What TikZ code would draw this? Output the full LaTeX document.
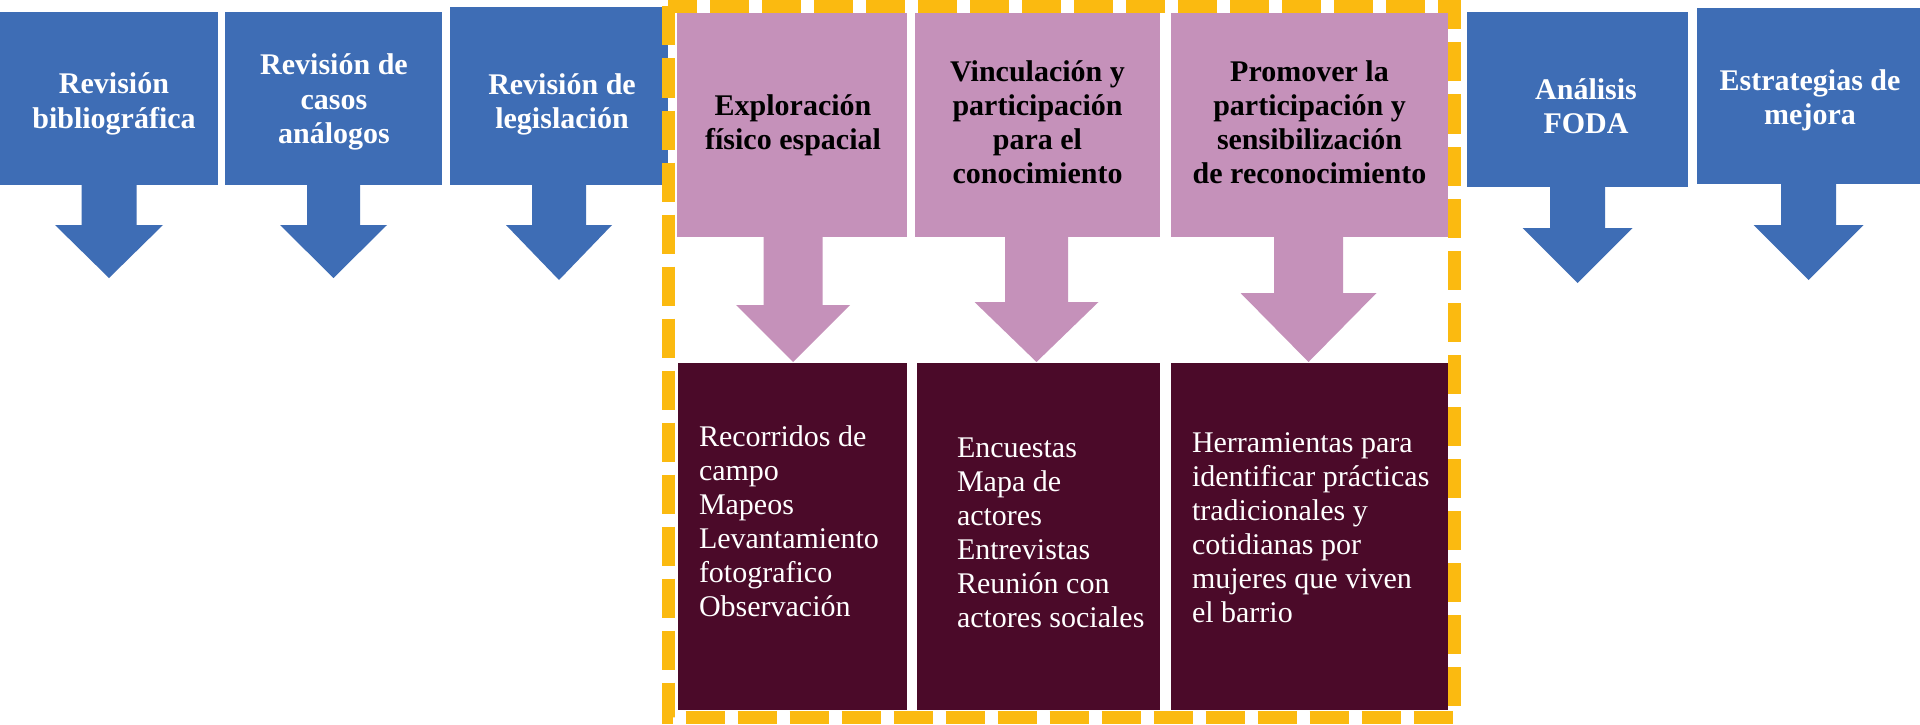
\documentclass[tikz,border=0pt]{standalone}
\usepackage{fontspec}
\setmainfont{Liberation Serif}
\usetikzlibrary{calc}
\definecolor{bblue}{HTML}{3E6DB5}
\definecolor{ppink}{HTML}{C591BA}
\definecolor{dmaroon}{HTML}{4B0A29}
\definecolor{ygold}{HTML}{FBBA10}
\tikzset{
  box/.style={rectangle, inner sep=0pt, outer sep=0pt},
  bluebox/.style={box, fill=bblue},
  pinkbox/.style={box, fill=ppink},
  darkbox/.style={box, fill=dmaroon},
  bluetext/.style={inner sep=0pt, outer sep=0pt, align=center, text=white, font=\fontsize{30}{34.5}\selectfont\bfseries},
  pinktext/.style={inner sep=0pt, outer sep=0pt, align=center, text=black, font=\fontsize{30}{34}\selectfont\bfseries},
  darktext/.style={inner sep=0pt, outer sep=0pt, align=left, text=white, anchor=west, font=\fontsize{30}{34}\selectfont},
  border/.style={draw=ygold, line width=13pt, dash pattern=on 39pt off 13pt},
}
% #1 colour, #2 node, #3 x offset, #4 stem half width, #5 head half width, #6 head top offset, #7 tip offset
\newcommand{\blkarrow}[7]{%
  \fill[#1] ($(#2.south)+(#3-#4,-1)$) -- ($(#2.south)+(#3-#4,#6)$) -- ($(#2.south)+(#3-#5,#6)$)
    -- ($(#2.south)+(#3,#7)$) -- ($(#2.south)+(#3+#5,#6)$) -- ($(#2.south)+(#3+#4,#6)$)
    -- ($(#2.south)+(#3+#4,-1)$) -- cycle;}
\begin{document}
\begin{tikzpicture}[x=1pt, y=-1pt]
\fill[white] (0,0) rectangle (1920,725);
\useasboundingbox (0,0) rectangle (1920,725);

% blue boxes
\node[bluebox, minimum width=218pt, minimum height=173pt] (b1) at (109,98.5) {};
\node[bluebox, minimum width=217pt, minimum height=173pt] (b2) at (333.5,98.5) {};
\node[bluebox, minimum width=218pt, minimum height=178pt] (b3) at (559,96) {};
\node[bluebox, minimum width=221pt, minimum height=175pt] (b4) at (1577.5,99.5) {};
\node[bluebox, minimum width=223pt, minimum height=176pt] (b5) at (1808.5,96) {};
\node[bluetext] (b1t) at (114,104) {Revisión\\bibliográfica};
\node[bluetext] (b2t) at (334,102) {Revisión de\\casos\\análogos};
\node[bluetext] (b3t) at (562,104.5) {Revisión de\\legislación};
\node[bluetext] (b4t) at (1586,106) {Análisis\\FODA};
\node[bluetext] (b5t) at (1810,100.5) {Estrategias de\\mejora};
\blkarrow{bblue}{b1}{0}{27.5}{54}{40}{93}
\blkarrow{bblue}{b2}{0}{26.5}{53.5}{40}{93}
\blkarrow{bblue}{b3}{0}{27}{53}{40}{95}
\blkarrow{bblue}{b4}{0}{27.5}{55}{41}{96}
\blkarrow{bblue}{b5}{0}{27.5}{55}{41}{96}

% pink boxes
\node[pinkbox, minimum width=230pt, minimum height=224pt] (p1) at (792,125) {};
\node[pinkbox, minimum width=245pt, minimum height=224pt] (p2) at (1037.5,125) {};
\node[pinkbox, minimum width=277pt, minimum height=224pt] (p3) at (1309.5,125) {};
\node[pinktext] (p1t) at (793,125) {Exploración\\físico espacial};
\node[pinktext] (p2t) at (1037.5,122.5) {Vinculación y\\participación\\para el\\conocimiento};
\node[pinktext] (p3t) at (1309.5,122.5) {Promover la\\participación y\\sensibilización\\de reconocimiento};
\blkarrow{ppink}{p1}{1}{29.5}{57}{68}{125}
\blkarrow{ppink}{p2}{-1}{31.5}{62}{65}{125}
\blkarrow{ppink}{p3}{-1}{34.5}{68}{56}{125}

% dark boxes
\node[darkbox, minimum width=229pt, minimum height=347pt] (d1) at (792.5,536.5) {};
\node[darkbox, minimum width=243pt, minimum height=347pt] (d2) at (1038.5,536.5) {};
\node[darkbox, minimum width=277pt, minimum height=347pt] (d3) at (1309.5,536.5) {};
\node[darktext] (t1) at (699,521.5) {Recorridos de\\campo\\Mapeos\\Levantamiento\\fotografico\\Observación};
\node[darktext] (t2) at (957,533) {Encuestas\\Mapa de\\actores\\Entrevistas\\Reunión con\\actores sociales};
\node[darktext] (t3) at (1192,528) {Herramientas para\\identificar prácticas\\tradicionales y\\cotidianas por\\mujeres que viven\\el barrio};

% dashed frame
\draw[border] (668,6.5) rectangle (1454,717);
\end{tikzpicture}
\end{document}
